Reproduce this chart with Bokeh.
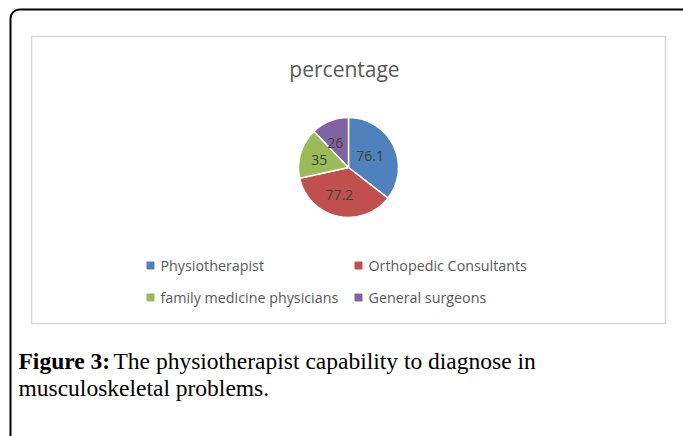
import math
from bokeh.plotting import figure
from bokeh.models import Range1d, BoxAnnotation, ColumnDataSource
from bokeh.core.properties import value
from bokeh.embed import file_html
from bokeh.resources import INLINE

# ---- data ----
title_text = "percentage"
categories = ["Physiotherapist", "Orthopedic Consultants",
              "family medicine physicians", "General surgeons"]
values = [76.1, 77.2, 35, 26]
value_labels = ["76.1", "77.2", "35", "26"]
colors = ["#4F81BD", "#C0504D", "#9BBB59", "#8064A2"]
caption_bold = "Figure 3:"
caption_line1 = "The physiotherapist capability to diagnose in"
caption_line2 = "musculoskeletal problems."

# ---- layout (page pixel coordinates) ----
W, H = 683, 436
def Y(py):
    return H - py

p = figure(width=W, height=H, output_backend="svg", toolbar_location=None,
           x_range=Range1d(0, W), y_range=Range1d(0, H),
           min_border=0, outline_line_color=None)
p.axis.visible = False
p.grid.visible = False
p.background_fill_color = "white"
p.border_fill_color = "white"

# outer rounded frame
p.add_layout(BoxAnnotation(left=10, right=690, top=Y(9), bottom=-20,
                           fill_alpha=0, line_color="black", line_alpha=1,
                           line_width=2, border_radius=9, level="underlay"))
# chart area box
p.add_layout(BoxAnnotation(left=31, right=665, top=Y(36), bottom=Y(323),
                           fill_color="white", fill_alpha=1,
                           line_color="#d9d9d9", line_alpha=1, line_width=1.5,
                           level="underlay"))

# title
p.text(x=[344], y=[Y(68)], text=[title_text], text_align="center",
       text_baseline="middle", text_font=value("Open Sans"),
       text_font_size="21px", text_color="#595959")

# pie
cx, cy, r = 348, Y(167), 50
total = sum(values)
starts, ends, lx, ly = [], [], [], []
acc = 0.0
for v in values:
    a0 = math.pi / 2 - 2 * math.pi * acc / total
    a1 = math.pi / 2 - 2 * math.pi * (acc + v) / total
    starts.append(a1)
    ends.append(a0)
    mid = (a0 + a1) / 2
    lx.append(cx - 3 + 0.55 * r * math.cos(mid))
    ly.append(cy - 1 + 0.55 * r * math.sin(mid))
    acc += v

src = ColumnDataSource(dict(start=starts, end=ends, color=colors,
                            lx=lx, ly=ly, lab=value_labels))
p.wedge(x=cx, y=cy, radius=r, start_angle="start", end_angle="end",
        fill_color="color", line_color="white", line_width=1.5, source=src)
p.text(x="lx", y="ly", text="lab", source=src, text_align="center",
       text_baseline="middle", text_font=value("Open Sans"),
       text_font_size="14px", text_color="#404040")

# legend (2 x 2)
mx, my, tx = [], [], []
for i, _ in enumerate(categories):
    col, row = i % 2, i // 2
    mx.append(150 + col * 208)
    tx.append(160 + col * 208)
    my.append(Y(265 + row * 32))
lsrc = ColumnDataSource(dict(mx=mx, my=my, tx=tx, c=colors, t=categories))
p.scatter(x="mx", y="my", marker="square", size=7, fill_color="c",
          line_color="c", source=lsrc)
p.text(x="tx", y="my", text="t", source=lsrc, text_baseline="middle",
       text_font=value("Open Sans"), text_font_size="14.3px",
       text_color="#595959")

# caption
p.text(x=[18], y=[Y(360)], text=[caption_bold], text_font=value("Liberation Serif"),
       text_font_size="23.5px", text_font_style="bold", text_color="black",
       text_baseline="alphabetic")
p.text(x=[113], y=[Y(360)], text=[caption_line1], text_font=value("Liberation Serif"),
       text_font_size="23.5px", text_color="black", text_baseline="alphabetic")
p.text(x=[18], y=[Y(387)], text=[caption_line2], text_font=value("Liberation Serif"),
       text_font_size="23.5px", text_color="black", text_baseline="alphabetic")

open("out.html", "w").write(file_html(p, INLINE))
